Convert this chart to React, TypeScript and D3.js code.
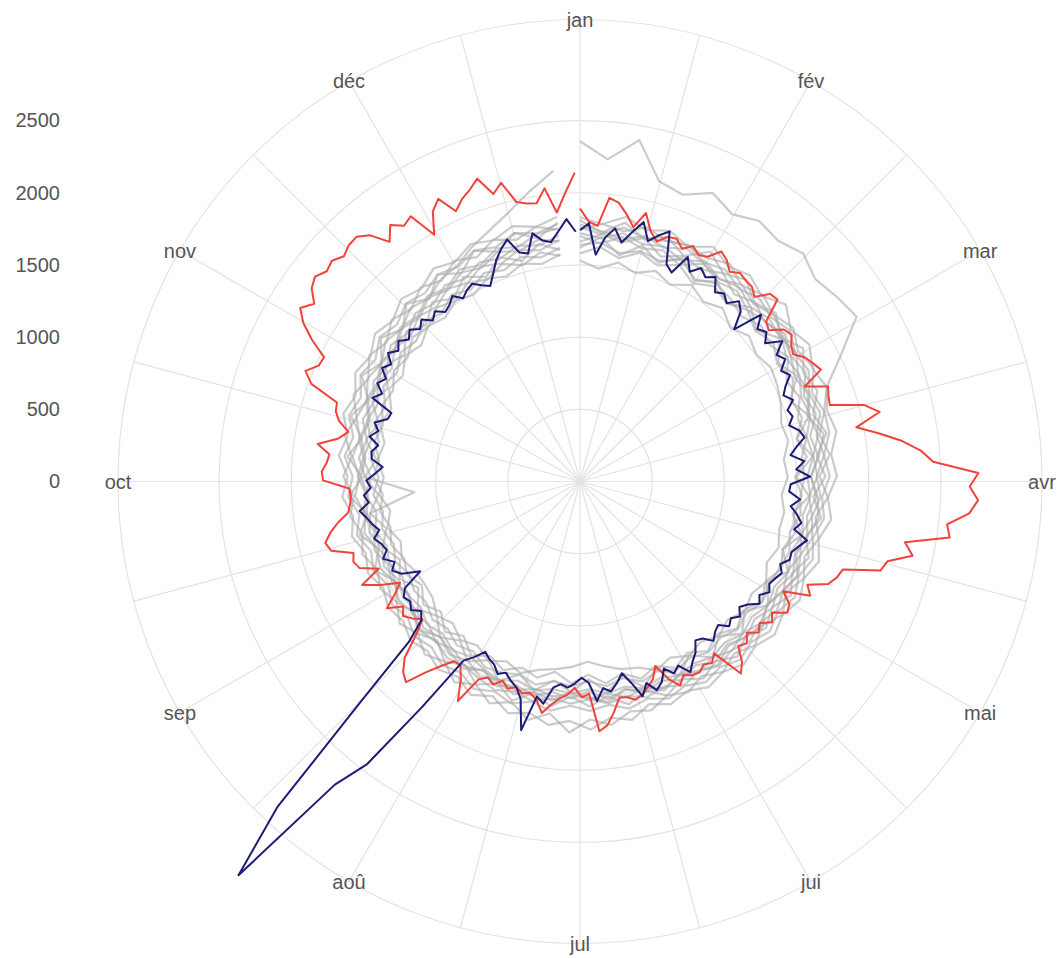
import { select, scaleLinear, lineRadial, axisLeft, range } from "d3";
import React, { useEffect, useRef } from "react";

const months = ["jan", "fév", "mar", "avr", "mai", "jui", "jul", "aoû", "sep", "oct", "nov", "déc"];
const yTicks = [0, 500, 1000, 1500, 2000, 2500];

// 2020, one value every 2 days
const red2020 = [
  1890, 1800, 1775, 1975, 1950, 1880, 1800, 1915, 1800, 1745,
  1800, 1810, 1760, 1810, 1770, 1790, 1870, 1840, 1785, 1820,
  1805, 1800, 1760, 1850, 1860, 1700, 1675, 1760, 1785, 1740,
  1720, 1780, 1810, 1840, 1690, 1840, 1820, 1810, 2040, 2130,
  1950, 2100, 2250, 2370, 2450, 2760, 2700, 2760, 2705, 2560,
  2590, 2290, 2360, 2200, 2170, 1920, 1900, 1860, 1730, 1780,
  1600, 1680, 1700, 1610, 1650, 1585, 1620, 1560, 1610, 1580,
  1680, 1735, 1510, 1555, 1530, 1560, 1550, 1520, 1575, 1500,
  1380, 1460, 1500, 1540, 1560, 1530, 1520, 1615, 1700, 1735,
  1470, 1495, 1430, 1480, 1510, 1560, 1625, 1540, 1505, 1520,
  1490, 1520, 1480, 1530, 1500, 1540, 1740, 1600, 1520, 1520,
  1600, 1700, 1840, 1800, 1720, 1560, 1450, 1500, 1540, 1500,
  1600, 1500, 1430, 1560, 1670, 1520, 1640, 1665, 1645, 1790,
  1815, 1765, 1700, 1620, 1600, 1590, 1600, 1780, 1790, 1760,
  1745, 1835, 1700, 1640, 1720, 1760, 1770, 1980, 2050, 1980,
  1970, 2100, 2210, 2280, 2215, 2290, 2320, 2280, 2300, 2260,
  2290, 2295, 2240, 2120, 2210, 2150, 2180, 1985, 2130, 2190,
  2060, 2120, 2160, 2215, 2080, 2140, 1985, 1960, 1950, 2045,
  1870, 2000, 2140,
];

// 2003, one value every 2 days
const navy2003 = [
  1740, 1790, 1575, 1700, 1770, 1680, 1765, 1850, 1730, 1790,
  1840, 1620, 1580, 1725, 1640, 1700, 1660, 1700, 1610, 1640,
  1600, 1665, 1620, 1500, 1705, 1620, 1655, 1600, 1705, 1620,
  1655, 1590, 1630, 1570, 1530, 1580, 1520, 1540, 1500, 1560,
  1585, 1520, 1470, 1560, 1500, 1595, 1460, 1450, 1530, 1470,
  1520, 1560, 1520, 1625, 1580, 1545, 1550, 1500, 1535, 1510,
  1490, 1520, 1470, 1505, 1440, 1405, 1450, 1410, 1440, 1380,
  1400, 1440, 1380, 1360, 1430, 1470, 1525, 1445, 1480, 1420,
  1500, 1540, 1470, 1550, 1440, 1360, 1420, 1470, 1440, 1525,
  1395, 1360, 1400, 1430, 1410, 1440, 1560, 1520, 1770, 1560,
  1490, 1460, 1420, 1450, 1400, 1380, 1350, 1420, 1480, 1910,
  2450, 2700, 3610, 3080, 2150, 1625, 1460, 1420, 1470, 1440,
  1460, 1420, 1270, 1390, 1440, 1400, 1465, 1420, 1440, 1480,
  1430, 1470, 1500, 1540, 1470, 1500, 1450, 1480, 1420, 1370,
  1450, 1460, 1420, 1490, 1440, 1480, 1400, 1390, 1550, 1500,
  1560, 1520, 1580, 1540, 1600, 1550, 1590, 1540, 1580, 1530,
  1570, 1510, 1550, 1500, 1520, 1560, 1505, 1540, 1560, 1520,
  1490, 1560, 1640, 1700, 1750, 1640, 1620, 1750, 1690, 1670,
  1740, 1820, 1730,
];

// other years, one value every 5 days
const grey1 = [
  1530, 1480, 1540, 1495, 1550, 1500, 1565, 1510, 1555, 1490,
  1545, 1505, 1540, 1520, 1490, 1450, 1470, 1420, 1440, 1400,
  1430, 1420, 1450, 1410, 1465, 1420, 1455, 1400, 1440, 1390,
  1425, 1370, 1410, 1350, 1330, 1290, 1250, 1285, 1310, 1335,
  1390, 1345, 1395, 1340, 1375, 1320, 1360, 1300, 1290, 1300,
  1345, 1310, 1370, 1330, 1395, 1360, 1410, 1380, 1440, 1400,
  1470, 1430, 1490, 1450, 1505, 1470, 1520, 1490, 1545, 1510,
  1560, 1530, 1580,
];
const grey2 = [
  1640, 1660, 1605, 1650, 1625, 1690, 1610, 1665, 1640, 1600,
  1655, 1620, 1680, 1590, 1630, 1570, 1600, 1545, 1555, 1530,
  1545, 1495, 1530, 1510, 1490, 1515, 1470, 1495, 1455, 1480,
  1440, 1465, 1420, 1450, 1395, 1430, 1385, 1420, 1395, 1440,
  1400, 1430, 1445, 1390, 1420, 1370, 1400, 1355, 1375, 1345,
  1395, 1360, 1410, 1380, 1435, 1395, 1460, 1420, 1480, 1445,
  1515, 1475, 1530, 1495, 1545, 1510, 1570, 1530, 1590, 1555,
  1610, 1575, 1625,
];
const grey3 = [
  1700, 1655, 1720, 1670, 1700, 1650, 1735, 1680, 1710, 1660,
  1700, 1720, 1665, 1690, 1640, 1660, 1600, 1625, 1575, 1600,
  1560, 1585, 1540, 1575, 1530, 1560, 1515, 1545, 1500, 1525,
  1485, 1510, 1470, 1500, 1455, 1480, 1440, 1470, 1450, 1480,
  1445, 1485, 1460, 1430, 1465, 1420, 1450, 1405, 1430, 1395,
  1440, 1410, 1460, 1425, 1485, 1450, 1510, 1475, 1535, 1500,
  1560, 1520, 1580, 1545, 1600, 1565, 1620, 1580, 1640, 1605,
  1660, 1625, 1680,
];
const grey4 = [
  1720, 1690, 1745, 1700, 1730, 1685, 1755, 1705, 1740, 1690,
  1730, 1705, 1745, 1680, 1700, 1650, 1680, 1625, 1645, 1590,
  1625, 1575, 1610, 1565, 1600, 1555, 1590, 1540, 1575, 1525,
  1560, 1510, 1545, 1495, 1530, 1480, 1510, 1475, 1500, 1470,
  1515, 1480, 1520, 1465, 1500, 1450, 1485, 1440, 1465, 1430,
  1480, 1445, 1500, 1470, 1150, 1490, 1540, 1505, 1565, 1530,
  1590, 1555, 1615, 1575, 1630, 1595, 1650, 1615, 1670, 1640,
  1690, 1660, 1710,
];
const grey5 = [
  1760, 1720, 1785, 1740, 1770, 1800, 1745, 1780, 1730, 1775,
  1745, 1790, 1735, 1760, 1700, 1730, 1670, 1700, 1640, 1670,
  1625, 1655, 1610, 1645, 1600, 1630, 1585, 1615, 1570, 1600,
  1550, 1585, 1535, 1565, 1520, 1550, 1510, 1540, 1515, 1555,
  1525, 1560, 1535, 1505, 1530, 1490, 1515, 1475, 1500, 1460,
  1510, 1480, 1535, 1505, 1560, 1530, 1585, 1555, 1610, 1580,
  1635, 1600, 1660, 1625, 1680, 1645, 1700, 1720, 1790, 1850,
  1930, 2040, 2160,
];
const grey6 = [
  2357, 2240, 2400, 2150, 2110, 2200, 2130, 2190, 2160, 2210,
  2150, 2190, 2230, 2010, 1830, 1760, 1760, 1700, 1730, 1680,
  1710, 1660, 1700, 1650, 1690, 1640, 1675, 1625, 1660, 1610,
  1640, 1590, 1625, 1575, 1610, 1560, 1590, 1555, 1600, 1560,
  1610, 1570, 1615, 1560, 1590, 1540, 1570, 1520, 1555, 1510,
  1560, 1525, 1590, 1545, 1610, 1575, 1640, 1600, 1665, 1625,
  1690, 1650, 1710, 1670, 1725, 1690, 1740, 1710, 1760, 1725,
  1780, 1745, 1790,
];
const grey7 = [
  1830, 1790, 1860, 1800, 1845, 1790, 1870, 1810, 1850, 1800,
  1880, 1800, 1850, 1790, 1830, 1780, 1810, 1750, 1780, 1720,
  1760, 1700, 1745, 1690, 1730, 1680, 1715, 1665, 1700, 1650,
  1680, 1630, 1665, 1615, 1690, 1650, 1720, 1660, 1700, 1640,
  1680, 1605, 1660, 1595, 1630, 1580, 1610, 1560, 1590, 1550,
  1600, 1565, 1625, 1590, 1650, 1610, 1680, 1640, 1705, 1665,
  1730, 1690, 1750, 1710, 1770, 1730, 1790, 1750, 1810, 1775,
  1830, 1790, 1840,
];
const grey8 = [
  1660, 1720, 1680, 1745, 1655, 1720, 1690, 1750, 1680, 1735,
  1690, 1750, 1700, 1735, 1660, 1700, 1625, 1660, 1600, 1640,
  1590, 1620, 1570, 1610, 1555, 1595, 1540, 1580, 1520, 1560,
  1505, 1545, 1490, 1530, 1470, 1520, 1455, 1505, 1470, 1520,
  1480, 1530, 1470, 1510, 1455, 1495, 1440, 1480, 1420, 1460,
  1430, 1470, 1450, 1495, 1470, 1520, 1495, 1545, 1515, 1570,
  1545, 1600, 1570, 1625, 1590, 1650, 1610, 1665, 1630, 1690,
  1650, 1700, 1670,
];
const grey9 = [
  1780, 1740, 1700, 1760, 1720, 1775, 1735, 1700, 1765, 1720,
  1770, 1730, 1700, 1655, 1690, 1640, 1720, 1665, 1600, 1650,
  1670, 1620, 1580, 1640, 1595, 1550, 1610, 1570, 1535, 1590,
  1545, 1500, 1560, 1520, 1475, 1540, 1500, 1460, 1530, 1490,
  1545, 1500, 1470, 1530, 1485, 1445, 1510, 1465, 1420, 1480,
  1450, 1500, 1465, 1520, 1480, 1540, 1510, 1560, 1525, 1585,
  1560, 1610, 1580, 1640, 1605, 1665, 1625, 1690, 1650, 1715,
  1680, 1740, 1760,
];
const grey10 = [
  1620, 1700, 1590, 1690, 1610, 1705, 1600, 1680, 1595, 1690,
  1610, 1700, 1600, 1670, 1560, 1650, 1530, 1620, 1500, 1590,
  1490, 1580, 1480, 1570, 1470, 1560, 1450, 1540, 1440, 1525,
  1420, 1510, 1400, 1490, 1380, 1470, 1370, 1460, 1390, 1480,
  1400, 1490, 1390, 1470, 1380, 1450, 1360, 1430, 1340, 1420,
  1360, 1440, 1380, 1470, 1400, 1490, 1420, 1510, 1450, 1540,
  1480, 1570, 1500, 1590, 1520, 1610, 1540, 1630, 1560, 1650,
  1580, 1670, 1610,
];
const grey11 = [
  1810, 1730, 1820, 1740, 1800, 1720, 1830, 1750, 1810, 1730,
  1790, 1710, 1800, 1720, 1760, 1680, 1740, 1650, 1700, 1620,
  1690, 1610, 1670, 1600, 1660, 1590, 1640, 1570, 1630, 1560,
  1610, 1540, 1600, 1520, 1580, 1500, 1560, 1490, 1570, 1500,
  1590, 1510, 1580, 1500, 1560, 1480, 1540, 1460, 1520, 1450,
  1550, 1470, 1570, 1490, 1600, 1510, 1620, 1540, 1650, 1570,
  1680, 1600, 1700, 1620, 1720, 1640, 1740, 1660, 1760, 1690,
  1780, 1710, 1800,
];
const grey12 = [
  1750, 1790, 1760, 1820, 1770, 1800, 1780, 1830, 1760, 1810,
  1770, 1820, 1760, 1800, 1720, 1760, 1690, 1740, 1660, 1720,
  1650, 1700, 1640, 1690, 1620, 1680, 1610, 1660, 1600, 1650,
  1590, 1640, 1600, 1660, 1630, 1700, 1650, 1740, 1620, 1690,
  1600, 1660, 1580, 1640, 1560, 1610, 1540, 1590, 1520, 1570,
  1530, 1590, 1550, 1610, 1570, 1640, 1590, 1660, 1610, 1680,
  1630, 1700, 1650, 1720, 1670, 1740, 1690, 1760, 1710, 1780,
  1730, 1790, 1750,
];
const grey13 = [
  1580, 1630, 1570, 1640, 1590, 1650, 1580, 1640, 1600, 1660,
  1600, 1650, 1590, 1640, 1570, 1600, 1530, 1580, 1490, 1540,
  1500, 1530, 1480, 1520, 1460, 1510, 1440, 1490, 1420, 1470,
  1400, 1450, 1380, 1430, 1360, 1410, 1340, 1400, 1330, 1390,
  1350, 1410, 1360, 1420, 1340, 1400, 1320, 1380, 1310, 1360,
  1330, 1380, 1350, 1400, 1370, 1430, 1400, 1450, 1420, 1470,
  1440, 1500, 1470, 1530, 1500, 1560, 1520, 1580, 1540, 1600,
  1550, 1610, 1570,
];
const greyYears = [
  grey1, grey2, grey3, grey4, grey5, grey6, grey7,
  grey8, grey9, grey10, grey11, grey12, grey13,
];

const font = "'Liberation Sans', Arial, Helvetica, sans-serif";

const RadialChart = () => {
  const chartRef = useRef<SVGSVGElement>(null);

  useEffect(() => {
    if (!chartRef.current) return;
    const svg = select(chartRef.current);
    svg.selectAll("*").remove();

    // centre et rayon extérieur
    const cx = 580;
    const cy = 481.5;
    const outer = 462;
    const maxValue = 3200;

    const r = scaleLinear().domain([0, maxValue]).range([0, outer]);
    const g = svg.append("g").attr("transform", `translate(${cx},${cy})`);

    // grille
    g.selectAll(".ring")
      .data([...yTicks.slice(1), maxValue])
      .enter()
      .append("circle")
      .attr("class", "ring")
      .attr("r", (d) => r(d))
      .attr("fill", "none")
      .attr("stroke", "#e3e3e3")
      .attr("stroke-width", 1.2);

    g.selectAll(".spoke")
      .data(range(24))
      .enter()
      .append("line")
      .attr("class", "spoke")
      .attr("x1", 0)
      .attr("y1", 0)
      .attr("x2", (d) => outer * Math.sin((d * Math.PI) / 12))
      .attr("y2", (d) => -outer * Math.cos((d * Math.PI) / 12))
      .attr("stroke", "#e3e3e3")
      .attr("stroke-width", 1.2);

    // lignes
    const makeLine = (stepDays: number) =>
      lineRadial<number>()
        .angle((_, i) => ((i * stepDays) / 365) * 2 * Math.PI)
        .radius((d) => r(d));

    g.selectAll(".grey")
      .data(greyYears)
      .enter()
      .append("path")
      .attr("class", "grey")
      .attr("d", (d) => makeLine(5)(d))
      .attr("fill", "none")
      .attr("stroke", "#ababab")
      .attr("stroke-opacity", 0.62)
      .attr("stroke-width", 2.2)
      .attr("stroke-linejoin", "round");

    g.append("path")
      .datum(red2020)
      .attr("d", makeLine(2))
      .attr("fill", "none")
      .attr("stroke", "#f2433a")
      .attr("stroke-width", 2)
      .attr("stroke-linejoin", "round");

    g.append("path")
      .datum(navy2003)
      .attr("d", makeLine(2))
      .attr("fill", "none")
      .attr("stroke", "#1c1c78")
      .attr("stroke-width", 2)
      .attr("stroke-linejoin", "round");

    // mois
    g.selectAll(".month")
      .data(months)
      .enter()
      .append("text")
      .attr("class", "month")
      .attr("x", (_, i) => outer * Math.sin((i * Math.PI) / 6))
      .attr("y", (_, i) => -outer * Math.cos((i * Math.PI) / 6))
      .attr("dy", "0.35em")
      .attr("text-anchor", "middle")
      .attr("font-family", font)
      .attr("font-size", 20)
      .attr("fill", "#555")
      .text((d) => d);

    // axe y
    const y = scaleLinear().domain([0, maxValue]).range([cy, cy - outer]);
    svg
      .append("g")
      .attr("transform", "translate(60,0)")
      .attr("color", "#555")
      .call(
        axisLeft(y)
          .tickValues(yTicks)
          .tickSize(0)
          .tickPadding(0)
          .tickFormat((d) => String(d))
      )
      .call((a) => a.select(".domain").remove())
      .attr("font-family", font)
      .attr("font-size", 20);
  }, []);

  return (
    <svg
      ref={chartRef}
      width={1059}
      height={958}
      style={{ position: "absolute", left: 0, top: 0, background: "#fff" }}
    ></svg>
  );
};

export default function App() {
  return <RadialChart />;
}
